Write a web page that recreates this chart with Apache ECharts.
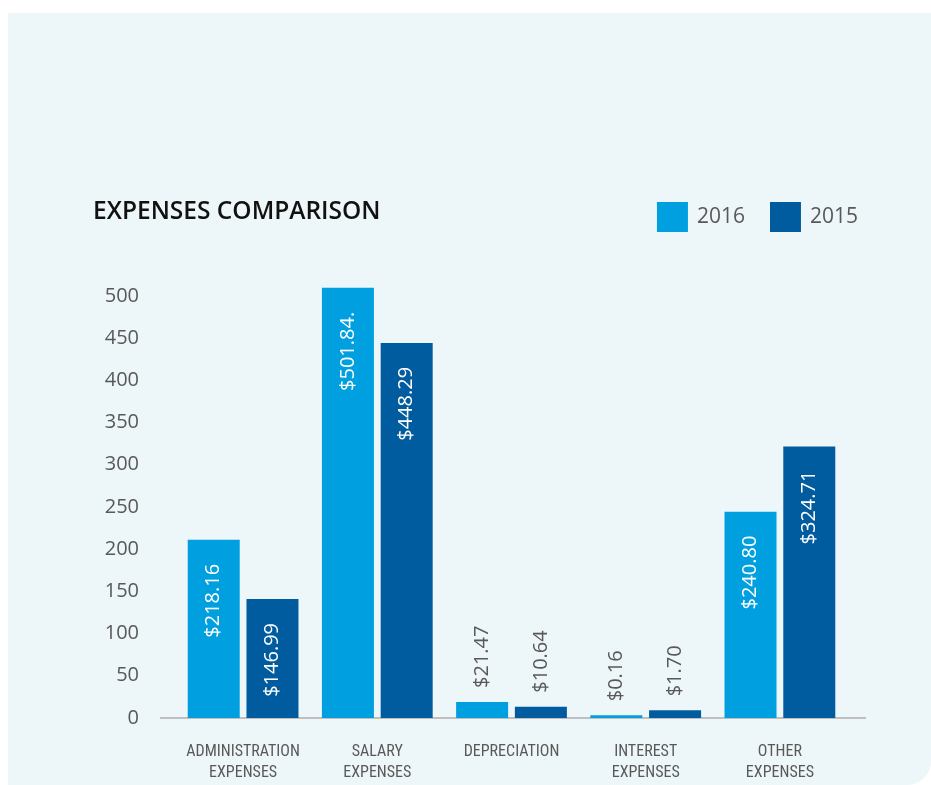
<!DOCTYPE html>
<html>
<head>
<meta charset="utf-8">
<script src="https://cdn.jsdelivr.net/npm/echarts@6/dist/echarts.min.js"></script>
<style>
html,body{margin:0;padding:0;background:#ffffff;}
#chart{width:931px;height:785px;}
</style>
</head>
<body>
<div id="chart"></div>
<script>
var categories = ['ADMINISTRATION\nEXPENSES', 'SALARY\nEXPENSES', 'DEPRECIATION', 'INTEREST\nEXPENSES', 'OTHER\nEXPENSES'];
var seriesNames = ['2016', '2015'];
var values2016 = [211, 509.5, 19, 3.2, 244.4];
var values2015 = [141, 444.3, 13.4, 9.1, 321.5];
var labels2016 = ['$218.16', '$501.84.', '$21.47', '$0.16', '$240.80'];
var labels2015 = ['$146.99', '$448.29', '$10.64', '$1.70', '$324.71'];
var yTicks = [0, 50, 100, 150, 200, 250, 300, 350, 400, 450, 500];

var FONT = '"Open Sans", "Noto Sans", sans-serif';
var COND = '"Roboto Condensed", "DejaVu Sans Condensed", Roboto, sans-serif';

function makeData(vals, labs) {
  return vals.map(function (v, i) {
    var small = v < 50;
    return {
      value: v,
      label: small ? {
        show: true, formatter: labs[i], position: 'top', rotate: 90,
        align: 'left', verticalAlign: 'middle', distance: 14,
        color: '#595959', fontSize: 20, fontFamily: FONT
      } : {
        show: true, formatter: labs[i], position: 'insideTop', rotate: 90,
        align: 'right', verticalAlign: 'middle', distance: 24,
        color: '#ffffff', fontSize: 20, fontFamily: FONT
      }
    };
  });
}

var chart = echarts.init(document.getElementById('chart'), null, {renderer: 'canvas'});
chart.setOption({
  animation: false,
  backgroundColor: 'transparent',
  graphic: [
    {type: 'rect', z: -10, silent: true, shape: {x: 8, y: 13, width: 923, height: 772, r: [0, 0, 24, 0]}, style: {fill: '#EDF6F8'}},
    {type: 'line', z: 0, silent: true, shape: {x1: 160, y1: 718, x2: 866, y2: 718}, style: {stroke: '#BFBFBF', lineWidth: 2}}
  ],
  title: {
    text: 'EXPENSES COMPARISON', left: 88, top: 195,
    textStyle: {fontFamily: FONT, fontSize: 24.5, fontWeight: 600, color: '#111111'}
  },
  legend: {
    data: seriesNames, right: 68, top: 197, itemWidth: 31, itemHeight: 30, itemGap: 25,
    icon: 'rect',
    textStyle: {fontFamily: FONT, fontSize: 21, color: '#595959', padding: [0, 0, 0, 4]}
  },
  grid: {left: 176, right: 84, top: 279, bottom: 67},
  xAxis: {
    type: 'category', data: categories,
    axisLine: {show: false}, axisTick: {show: false},
    axisLabel: {fontFamily: COND, fontSize: 16, color: '#595959', lineHeight: 21, margin: 23, interval: 0}
  },
  yAxis: {
    type: 'value', min: 0, max: 520, interval: 50,
    splitLine: {show: false}, axisLine: {show: false}, axisTick: {show: false},
    axisLabel: {
      fontFamily: FONT, fontSize: 20, color: '#595959', margin: 37, showMaxLabel: false,
      formatter: function (v) { return yTicks.indexOf(v) >= 0 ? String(v) : ''; }
    }
  },
  series: [
    {name: seriesNames[0], type: 'bar', barWidth: 52, barGap: '13%', itemStyle: {color: '#009FDF'}, data: makeData(values2016, labels2016)},
    {name: seriesNames[1], type: 'bar', barWidth: 52, barGap: '13%', itemStyle: {color: '#005C9E'}, data: makeData(values2015, labels2015)}
  ]
});
</script>
</body>
</html>
